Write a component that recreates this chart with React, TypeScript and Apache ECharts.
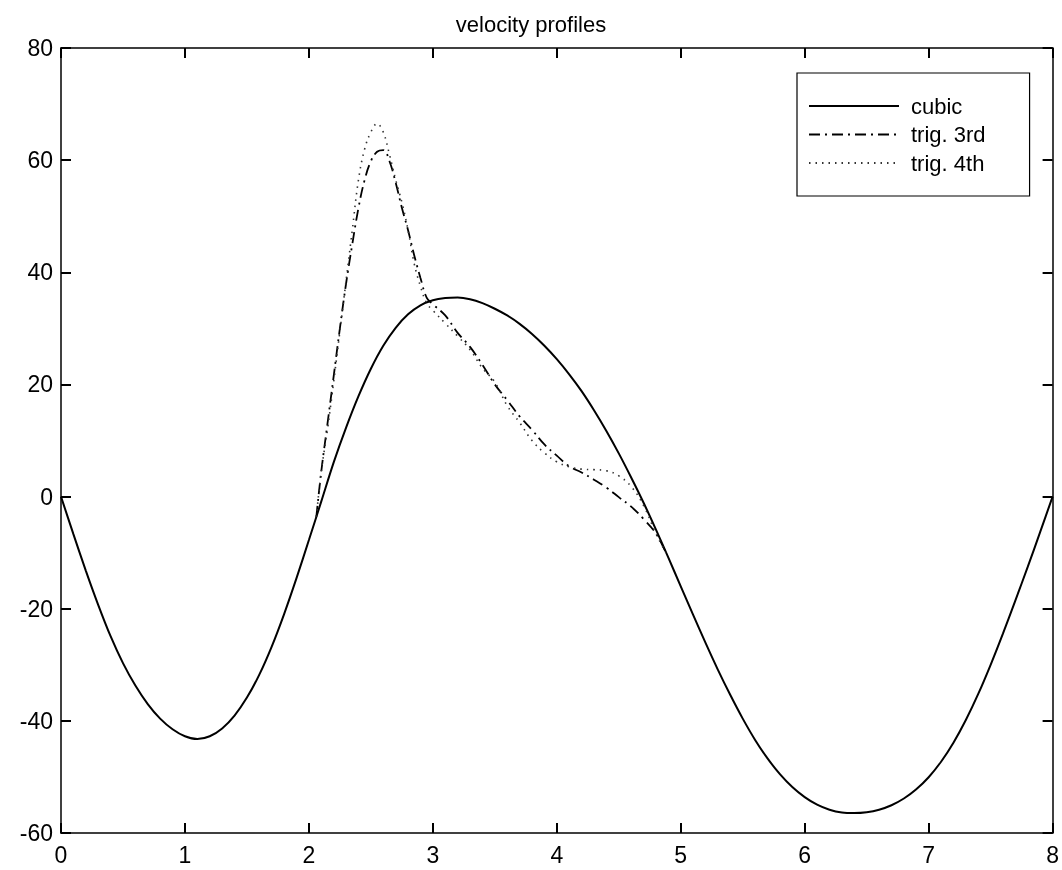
import React, { useEffect, useRef } from "react";
import * as echarts from "echarts";

const titleText = "velocity profiles";
const seriesNames = ["cubic", "trig. 3rd", "trig. 4th"];

const cubicT = [
  0, 0.1, 0.2, 0.3, 0.4, 0.5, 0.6, 0.7, 0.8, 0.9, 1.0, 1.1, 1.2, 1.3, 1.4, 1.5, 1.6, 1.7, 1.8, 1.9,
  2.0, 2.1, 2.2, 2.3, 2.4, 2.5, 2.6, 2.7, 2.8, 2.9, 3.0, 3.1, 3.2, 3.3, 3.4, 3.5, 3.6, 3.7, 3.8, 3.9,
  4.0, 4.1, 4.2, 4.3, 4.4, 4.5, 4.6, 4.7, 4.8, 4.9, 5.0, 5.1, 5.2, 5.3, 5.4, 5.5, 5.6, 5.7, 5.8, 5.9,
  6.0, 6.1, 6.2, 6.3, 6.4, 6.5, 6.6, 6.7, 6.8, 6.9, 7.0, 7.1, 7.2, 7.3, 7.4, 7.5, 7.6, 7.7, 7.8, 7.9, 8.0,
];
const cubicV = [
  0, -6.7, -13.2, -19.3, -24.9, -29.7, -33.7, -37.0, -39.6, -41.5, -42.75, -43.25, -42.75, -41.35, -39.05,
  -35.85, -31.75, -26.75, -20.95, -14.55, -7.75, -0.85, 6.1, 12.3, 17.9, 22.8, 26.9, 30.1, 32.5, 34.1, 35.0,
  35.4, 35.5, 35.2, 34.5, 33.5, 32.3, 30.8, 29.0, 26.9, 24.5, 21.8, 18.8, 15.4, 11.7, 7.7, 3.4, -1.1, -5.9,
  -10.9, -16.0, -21.1, -26.1, -30.9, -35.4, -39.6, -43.4, -46.7, -49.5, -51.8, -53.6, -54.95, -55.85, -56.35,
  -56.45, -56.3, -55.85, -55.05, -53.85, -52.2, -50.05, -47.3, -43.9, -39.85, -35.2, -30.0, -24.4, -18.5,
  -12.5, -6.3, 0,
];

const trigT = [
  2.06, 2.1, 2.15, 2.2, 2.25, 2.3, 2.35, 2.4, 2.45, 2.5, 2.55, 2.6, 2.65, 2.7, 2.75, 2.8, 2.85, 2.9, 2.95,
  3.0, 3.1, 3.2, 3.3, 3.4, 3.5, 3.6, 3.7, 3.8, 3.9, 4.0, 4.1, 4.2, 4.3, 4.4, 4.5, 4.6, 4.7, 4.8, 4.88,
];
const trig3V = [
  -3.6, 4.5, 13.0, 21.5, 30.0, 38.0, 45.0, 51.5, 56.5, 59.8, 61.5, 61.8, 59.8, 56.0, 51.5, 47.5, 43.0, 39.0,
  35.5, 34.3, 32.3, 29.2, 26.7, 23.5, 20.0, 17.2, 14.3, 11.9, 9.3, 7.3, 5.4, 4.3, 3.0, 1.6, -0.1, -1.8, -4.0,
  -6.6, -10.0,
];
const trig4V = [
  -3.6, 4.5, 12.0, 20.5, 29.5, 38.5, 47.5, 56.5, 62.0, 65.0, 66.5, 65.0, 61.0, 56.5, 52.5, 47.5, 41.5, 37.5,
  34.5, 33.2, 30.9, 28.6, 26.2, 22.9, 20.4, 16.2, 13.2, 10.0, 7.8, 6.2, 5.3, 4.9, 4.8, 4.6, 3.7, 1.8, -1.6,
  -6.6, -10.0,
];

const xMin = 0, xMax = 8, xStep = 1;
const yMin = -60, yMax = 80, yStep = 20;

const FONT = "'Liberation Sans', Arial, Helvetica, sans-serif";

function makeAxis(pos: string, min: number, max: number, step: number, showLabel: boolean, margin: number) {
  return {
    type: "value",
    min,
    max,
    interval: step,
    position: pos,
    axisLine: { show: true, onZero: false, lineStyle: { color: "#000", width: 1.5 } },
    axisTick: { show: true, inside: true, length: 10, lineStyle: { color: "#000", width: 2 } },
    splitLine: { show: false },
    axisLabel: showLabel
      ? { show: true, fontFamily: FONT, fontSize: 23, color: "#000", margin }
      : { show: false },
  };
}

export default function App() {
  const ref = useRef<HTMLDivElement>(null);

  useEffect(() => {
    if (!ref.current) return;
    const chart = echarts.init(ref.current, undefined, { renderer: "svg" });
    const pairs = (t: number[], v: number[]) => t.map((x, i) => [x, v[i]]);

    chart.setOption({
      animation: false,
      title: {
        text: titleText,
        left: "center",
        top: 8,
        textStyle: { fontFamily: FONT, fontSize: 22, fontWeight: "normal", color: "#000" },
      },
      legend: {
        left: 797,
        top: 73,
        orient: "vertical",
        padding: [22, 44, 22, 11],
        itemWidth: 90,
        itemHeight: 22,
        itemGap: 6.5,
        borderColor: "#000",
        borderWidth: 1.2,
        data: seriesNames,
        itemStyle: { color: "rgba(0,0,0,0)", borderColor: "rgba(0,0,0,0)", borderWidth: 0 },
        textStyle: { fontFamily: FONT, fontSize: 22, color: "#000", padding: [0, 0, 0, 7] },
      },
      grid: { left: 61, top: 48, width: 996, height: 785 },
      xAxis: [
        makeAxis("bottom", xMin, xMax, xStep, true, 10),
        makeAxis("top", xMin, xMax, xStep, false, 0),
      ],
      yAxis: [
        makeAxis("left", yMin, yMax, yStep, true, 8),
        makeAxis("right", yMin, yMax, yStep, false, 0),
      ],
      series: [
        {
          name: seriesNames[0],
          type: "line",
          data: pairs(cubicT, cubicV),
          smooth: 0.3,
          symbol: "none",
          lineStyle: { color: "#000", width: 2, type: "solid" },
        },
        {
          name: seriesNames[1],
          type: "line",
          data: pairs(trigT, trig3V),
          smooth: 0.4,
          symbol: "none",
          lineStyle: { color: "#000", width: 1.8, type: [11, 5, 2, 5] },
        },
        {
          name: seriesNames[2],
          type: "line",
          data: pairs(trigT, trig4V),
          smooth: 0.4,
          symbol: "none",
          lineStyle: { color: "#333", width: 1.6, type: [1.5, 5] },
        },
      ],
    });

    return () => chart.dispose();
  }, []);

  return <div ref={ref} style={{ position: "fixed", left: 0, top: 0, width: 1062, height: 870 }} />;
}
